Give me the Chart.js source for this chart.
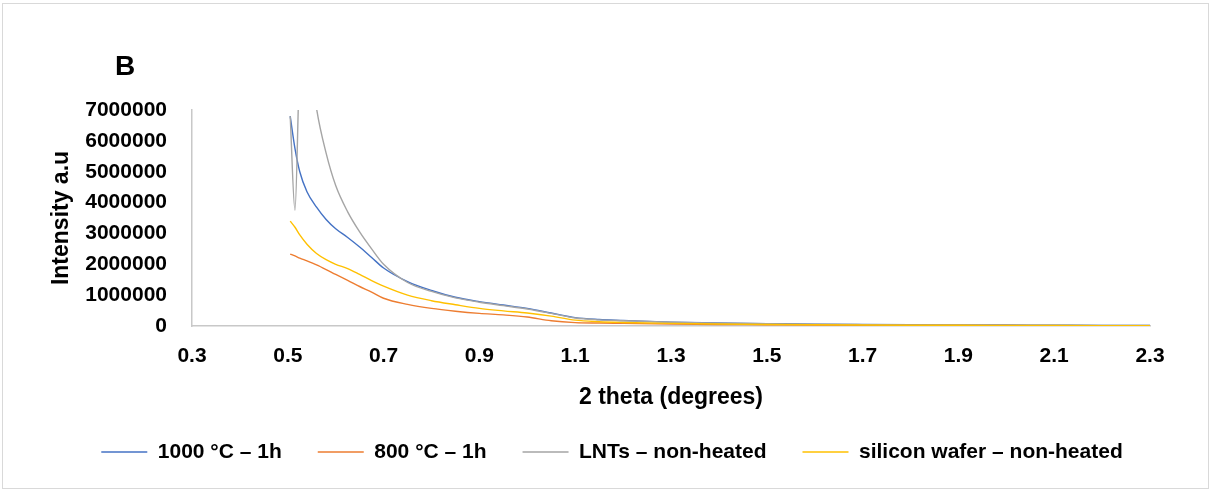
<!DOCTYPE html>
<html>
<head>
<meta charset="utf-8">
<script src="https://cdn.jsdelivr.net/npm/chart.js@4.4.1/dist/chart.umd.min.js"></script>
<style>
  html, body { margin: 0; padding: 0; background: #fff; }
</style>
</head>
<body>
<canvas id="xrdChart" width="1213" height="492"></canvas>
<script>
// 2 theta positions (degrees)
const theta = [0.505, 0.515, 0.525, 0.54, 0.56, 0.58, 0.6, 0.625, 0.65, 0.675, 0.7, 0.75, 0.8, 0.85, 0.9, 0.95,
               1.0, 1.05, 1.1, 1.15, 1.2, 1.3, 1.4, 1.5, 1.6, 1.7, 1.8, 1.9, 2.0, 2.1, 2.2, 2.3];

const heated1000 = [6800000, 5750000, 5000000, 4350000, 3850000, 3450000, 3150000, 2870000, 2560000, 2220000, 1880000,
                    1440000, 1150000, 930000, 790000, 680000, 570000, 420000, 270000, 210000, 180000, 125000, 95000,
                    78000, 60000, 50000, 42000, 35000, 30000, 25000, 20000, 18000];
const heated800 = [2330000, 2270000, 2200000, 2110000, 1980000, 1830000, 1670000, 1480000, 1280000, 1100000, 900000,
                   700000, 570000, 480000, 410000, 360000, 290000, 170000, 110000, 95000, 85000, 65000, 50000,
                   40000, 30000, 25000, 20000, 18000, 15000, 12000, 10000, 10000];
const lntsRaw = [6800000, 3750000, 8500000, 9500000, 7050000, 5600000, 4550000, 3700000, 3050000, 2500000, 2000000,
                 1410000, 1120000, 910000, 770000, 660000, 550000, 410000, 260000, 200000, 170000, 120000, 90000,
                 74000, 56000, 46000, 38000, 32000, 27000, 22000, 18000, 16000];
const siliconWafer = [3400000, 3200000, 2950000, 2650000, 2350000, 2150000, 2000000, 1860000, 1670000, 1470000, 1290000,
                      1000000, 820000, 690000, 570000, 490000, 420000, 320000, 190000, 140000, 115000, 85000, 65000,
                      50000, 40000, 32000, 26000, 22000, 18000, 15000, 13000, 12000];

const seriesNames = ['1000 °C – 1h', '800 °C – 1h', 'LNTs – non-heated', 'silicon wafer – non-heated'];
const seriesColors = ['#4472C4', '#ED7D31', '#A5A5A5', '#FFC000'];
const xTicks = [0.3, 0.5, 0.7, 0.9, 1.1, 1.3, 1.5, 1.7, 1.9, 2.1, 2.3];

const seriesValues = [heated1000, heated800, lntsRaw, siliconWafer];
const FONT = 'Liberation Sans, Arial, sans-serif';

const datasets = seriesValues.map((vals, k) => ({
    label: seriesNames[k],
    data: theta.map((t, i) => ({ x: t, y: vals[i] })),
    borderColor: seriesColors[k],
    backgroundColor: seriesColors[k],
    borderWidth: 1.4,
    pointRadius: 0,
    pointStyle: 'line',
    cubicInterpolationMode: 'monotone',
    fill: false,
    order: 3 - k
}));

// frame + panel letter
const decor = {
    id: 'decor',
    afterDraw(chart) {
        const ctx = chart.ctx;
        ctx.save();
        ctx.strokeStyle = '#d9d9d9';
        ctx.lineWidth = 1;
        ctx.strokeRect(2.5, 3.5, 1206, 485);
        ctx.fillStyle = '#000';
        ctx.font = 'bold 28px ' + FONT;
        ctx.textAlign = 'center';
        ctx.textBaseline = 'middle';
        ctx.fillText('B', 125, 67);
        ctx.restore();
    }
};

new Chart(document.getElementById('xrdChart'), {
    type: 'line',
    data: { datasets },
    plugins: [decor],
    options: {
        responsive: false,
        animation: false,
        layout: { padding: { top: 110, left: 11, right: 0, bottom: 19.5 } },
        plugins: {
            tooltip: { enabled: false },
            legend: {
                position: 'bottom',
                labels: {
                    usePointStyle: true,
                    pointStyle: 'line',
                    pointStyleWidth: 46,
                    padding: 36,
                    color: '#000',
                    font: { family: FONT, size: 21, weight: 'bold' },
                    sort: (a, b) => a.datasetIndex - b.datasetIndex
                }
            }
        },
        scales: {
            x: {
                type: 'linear',
                min: 0.3,
                max: 2.3,
                afterBuildTicks: s => { s.ticks = xTicks.map(v => ({ value: v })); },
                afterFit: s => { s.height = 79.5; s.paddingRight = 63; },
                grid: { display: false, drawTicks: false },
                border: { display: true, color: '#c8c8c8', width: 1.5 },
                ticks: {
                    padding: 18,
                    color: '#000',
                    font: { family: FONT, size: 21, weight: 'bold' },
                    callback: v => Number(v).toFixed(1)
                },
                title: {
                    display: true,
                    text: '2 theta (degrees)',
                    color: '#000',
                    font: { family: FONT, size: 23, weight: 'bold' },
                    padding: { top: 0, bottom: -6 }
                }
            },
            y: {
                min: 0,
                max: 7000000,
                afterFit: s => { s.width = 181; },
                grid: { display: false, drawTicks: false },
                border: { display: true, color: '#c8c8c8', width: 1.5 },
                ticks: {
                    stepSize: 1000000,
                    padding: 25,
                    color: '#000',
                    font: { family: FONT, size: 21, weight: 'bold' },
                    callback: v => String(v)
                },
                title: {
                    display: true,
                    text: 'Intensity a.u',
                    color: '#000',
                    font: { family: FONT, size: 23, weight: 'bold' },
                    padding: { top: 37, bottom: 0 }
                }
            }
        }
    }
});
</script>
</body>
</html>
